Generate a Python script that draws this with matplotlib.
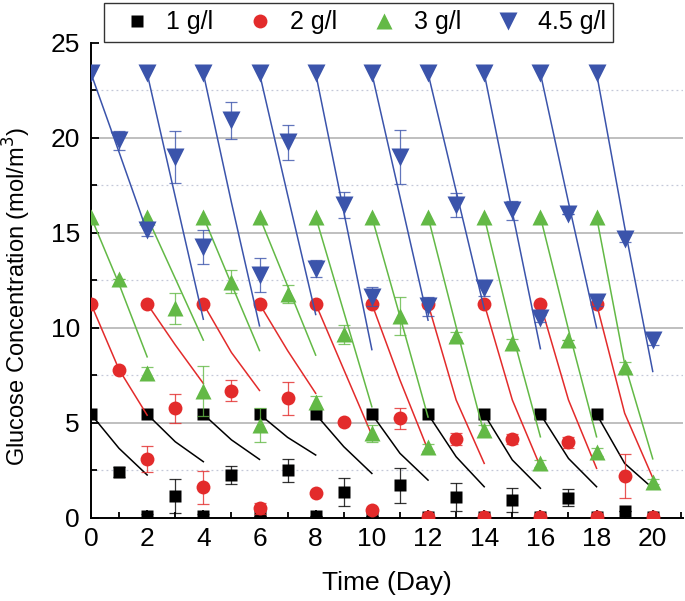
import numpy as np
import matplotlib
matplotlib.use('Agg')
import matplotlib.pyplot as plt
from matplotlib.ticker import MultipleLocator

plt.rcParams['font.family'] = ['Liberation Sans', 'DejaVu Sans']

# measured days (pre-feed values on even days), feed days
days = np.arange(1, 21)
reset_days = np.arange(0, 20, 2)

labels = ['1 g/l', '2 g/l', '3 g/l', '4.5 g/l']
colors = ['black', '#e32b2b', '#63b946', '#3b54ab']
markers = ['s', 'o', '^', 'v']
msizes = [9, 10, 12, 12.5]

# 1 g/l
init_1 = 5.45
meas_1 = [2.4, 0.1, 1.15, 0.1, 2.25, 0.1, 2.5, 0.1, 1.35, 0.1,
          1.7, 0.05, 1.1, 0.05, 0.93, 0.05, 1.05, 0.05, 0.37, 0.05]
err_1 = [0.25, 0.1, 0.9, 0.1, 0.45, 0, 0.6, 0, 0.75, 0,
         0.9, 0, 0.75, 0, 0.65, 0, 0.45, 0, 0, 0]
mid_1 = [3.65, 4.0, 4.1, 4.23, 3.74, 3.39, 3.21, 3.04, 3.12, 2.86]
end_1 = [2.25, 2.95, 3.07, 3.3, 2.33, 1.98, 1.63, 1.55, 1.63, 1.55]

# 2 g/l
init_2 = 11.26
meas_2 = [7.77, 3.07, 5.76, 1.6, 6.68, 0.49, 6.28, 1.28, 5.02, 0.4,
          5.23, 0.05, 4.14, 0.05, 4.14, 0.05, 3.97, 0.05, 2.2, 0.05]
err_2 = [0, 0.68, 0.77, 0.88, 0.55, 0.3, 0.86, 0, 0, 0.1,
         0.57, 0.1, 0.3, 0.1, 0.25, 0.1, 0.3, 0.1, 1.17, 0.1]
mid_2 = [7.8, 9.1, 8.7, 8.8, 7.8, 7.25, 6.2, 6.2, 6.2, 5.5]
end_2 = [5.4, 7.07, 6.7, 6.55, 4.35, 3.56, 2.86, 2.68, 2.6, 2.1]

# 3 g/l
init_3 = 15.84
meas_3 = [12.55, 7.63, 11.02, 6.68, 12.42, 4.88, 11.76, 6.1, 9.67, 4.44,
          10.63, 3.7, 9.56, 4.6, 9.18, 2.86, 9.35, 3.47, 7.95, 1.9]
err_3 = [0, 0.3, 0.8, 1.33, 0.6, 0.88, 0.48, 0.3, 0.5, 0.45,
         1.0, 0.2, 0.2, 0.3, 0.25, 0.2, 0, 0.2, 0.25, 0.15]
mid_3 = [12.3, 12.6, 12.3, 12.2, 10.84, 10.6, 10.05, 9.7, 9.9, 8.1]
end_3 = [8.47, 9.35, 8.8, 8.56, 5.84, 5.3, 4.4, 4.26, 4.26, 3.1]

# 4.5 g/l
init_4 = 23.4
meas_4 = [19.87, 15.14, 19.0, 14.26, 20.93, 12.77, 19.76, 13.12, 16.46, 11.63,
          19.0, 11.14, 16.46, 12.07, 16.2, 10.49, 15.98, 11.37, 14.7, 9.35]
err_4 = [0.5, 0.3, 1.36, 0.9, 0.98, 0.9, 0.94, 0.45, 0.7, 0.5,
         1.43, 0.5, 0.63, 0.4, 0.5, 0.2, 0, 0.2, 0.2, 0.25]
mid_4 = [19.25, 16.9, 16.6, 17.0, 16.1, 16.9, 17.2, 16.1, 16.6, 15.3]
end_4 = [15.05, 10.45, 10.1, 10.7, 8.85, 10.4, 11.0, 8.9, 10.0, 7.7]

series = [
    (init_1, meas_1, err_1, mid_1, end_1),
    (init_2, meas_2, err_2, mid_2, end_2),
    (init_3, meas_3, err_3, mid_3, end_3),
    (init_4, meas_4, err_4, mid_4, end_4),
]

fig = plt.figure(figsize=(6.85, 6.01), dpi=100)
ax = fig.add_axes([0.1328, 0.1386, 0.864, 0.790])

# grid lines
for g in np.arange(5, 25, 5):
    ax.axhline(g, color='#b4b4b4', lw=1.2, zorder=0)
for g in np.arange(2.5, 25, 5):
    ax.axhline(g, color='#c4c8d8', lw=0.9, ls=(0, (1.5, 2.5)), zorder=0)

handles = []
for i, (init, meas, err, mid, end) in enumerate(series):
    c = colors[i]
    z = 2 + i
    ax.errorbar(days, meas, yerr=err, fmt='none', ecolor=c, elinewidth=0.9,
                capsize=4, capthick=0.9, alpha=0.8, zorder=z)
    ax.plot(reset_days, [init] * len(reset_days), marker=markers[i], ls='none',
            color=c, ms=msizes[i], mec='none', zorder=z)
    h, = ax.plot(days, meas, marker=markers[i], ls='none', color=c,
                 ms=msizes[i], mec='none', zorder=z, label=labels[i])
    handles.append(h)
    for k, d0 in enumerate(reset_days):
        ax.plot([d0, d0 + 1, d0 + 2], [init, mid[k], end[k]], color=c,
                lw=1.1, zorder=z)

ax.set_xlim(0, 21.07)
ax.set_ylim(0, 25)
ax.xaxis.set_major_locator(MultipleLocator(2))
ax.xaxis.set_minor_locator(MultipleLocator(1))
ax.yaxis.set_major_locator(MultipleLocator(5))
ax.yaxis.set_minor_locator(MultipleLocator(2.5))
ax.tick_params(which='both', direction='in', width=1.3, labelsize=19)
ax.tick_params(which='major', length=6)
ax.tick_params(which='minor', length=4)
ax.tick_params(axis='y', pad=8)
ax.tick_params(axis='x', pad=7)
for s in ['top', 'right']:
    ax.spines[s].set_visible(False)
for s in ['left', 'bottom']:
    ax.spines[s].set_linewidth(1.4)

ax.set_xlabel('Time (Day)', fontsize=19, labelpad=14)
ax.set_ylabel('Glucose Concentration (mol/m$^3$)', fontsize=17)
ax.yaxis.set_label_coords(-0.098, 0.465)

leg = ax.legend(handles=handles, loc='upper left', ncol=4, mode='expand',
                bbox_to_anchor=(104 / 685, 1 - 3 / 601, 509 / 685, 0.0),
                bbox_transform=fig.transFigure, fontsize=18, frameon=True,
                fancybox=False, edgecolor='black', borderpad=0.3,
                handlelength=2.0, handletextpad=0.2, borderaxespad=0)
leg.get_frame().set_linewidth(1.0)
leg.set_zorder(10)

fig.savefig('out.png', dpi=100)
